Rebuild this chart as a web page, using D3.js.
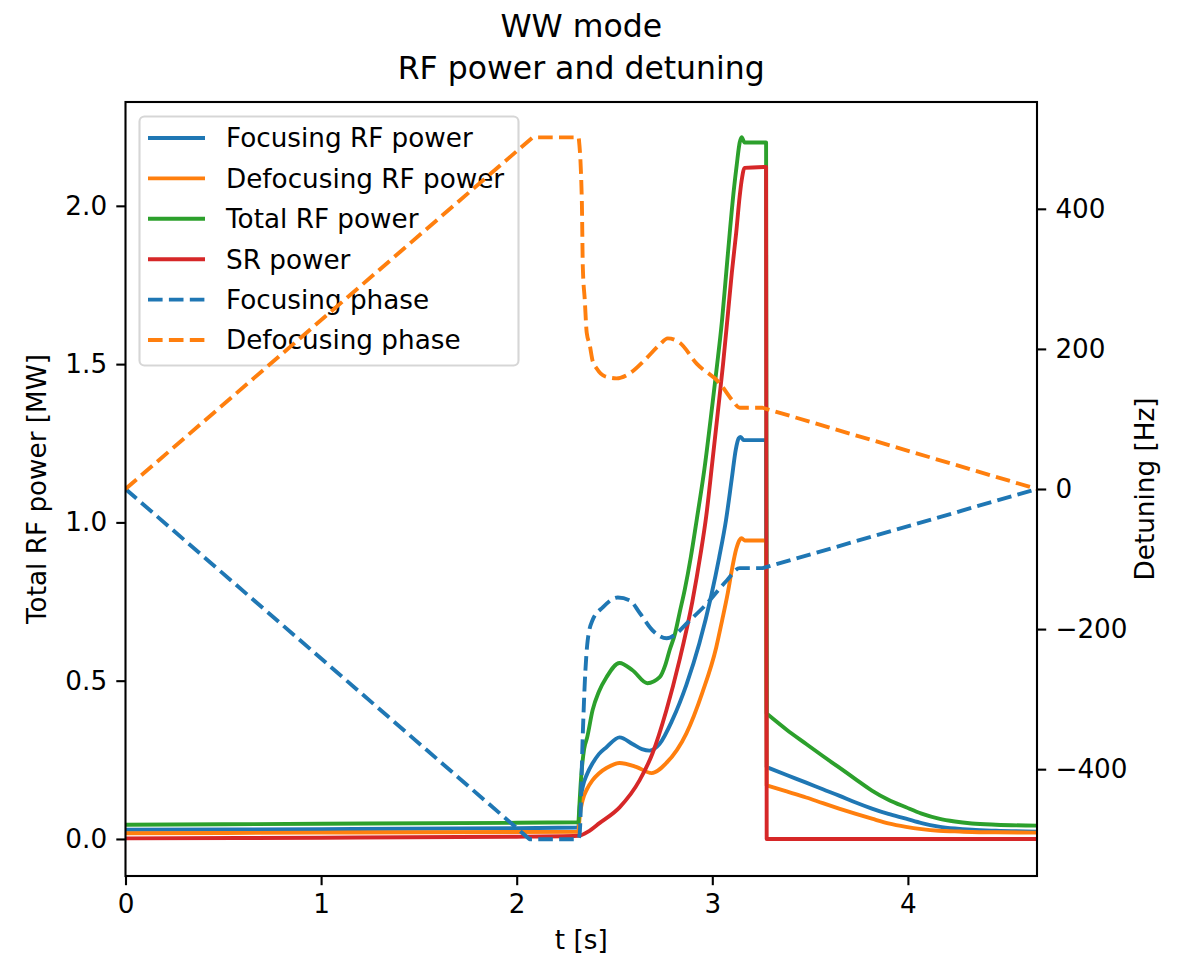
<!DOCTYPE html>
<html><head><meta charset="utf-8">
<script src="https://cdn.jsdelivr.net/npm/d3@7"></script>
<style>
body{margin:0;background:#fff}
text{font-family:"DejaVu Sans",sans-serif;fill:#000}
</style>
</head><body>
<svg id="chart" width="1178" height="956"></svg>
<script>
// ---- data: [t (s), value] ----
const focusingRFPower = [[0,0.029],[1.0,0.031],[2.0,0.034],[2.316,0.036],[2.322,0.10],[2.337,0.163],[2.36,0.205],[2.388,0.239],[2.42,0.268],[2.459,0.29],[2.526,0.321],[2.592,0.30],[2.64,0.284],[2.679,0.279],[2.73,0.30],[2.796,0.376],[2.867,0.486],[2.934,0.618],[2.995,0.77],[3.035,0.889],[3.07,1.007],[3.1,1.14],[3.12,1.23],[3.135,1.266],[3.145,1.27],[3.16,1.26],[3.275,1.26],[3.278,0.227],[3.38,0.202],[3.48,0.178],[3.565,0.157],[3.648,0.137],[3.73,0.116],[3.816,0.096],[3.9,0.079],[3.99,0.064],[4.07,0.05],[4.158,0.039],[4.24,0.033],[4.327,0.029],[4.45,0.026],[4.66,0.023]];
const defocusingRFPower = [[0,0.018],[1.0,0.020],[2.0,0.022],[2.316,0.023],[2.322,0.07],[2.337,0.122],[2.36,0.158],[2.388,0.186],[2.42,0.207],[2.459,0.224],[2.526,0.24],[2.61,0.228],[2.69,0.208],[2.765,0.24],[2.867,0.333],[2.95,0.464],[3.02,0.605],[3.05,0.69],[3.077,0.77],[3.1,0.85],[3.122,0.915],[3.14,0.945],[3.15,0.95],[3.165,0.943],[3.275,0.943],[3.278,0.169],[3.38,0.15],[3.48,0.131],[3.565,0.113],[3.648,0.096],[3.73,0.08],[3.816,0.064],[3.9,0.049],[3.99,0.038],[4.07,0.031],[4.158,0.026],[4.24,0.024],[4.327,0.022],[4.45,0.021],[4.66,0.020]];
const totalRFPower = [[0,0.045],[1.0,0.048],[2.0,0.051],[2.316,0.053],[2.33,0.2],[2.345,0.285],[2.36,0.32],[2.388,0.407],[2.42,0.465],[2.459,0.511],[2.526,0.556],[2.592,0.533],[2.668,0.492],[2.731,0.511],[2.76,0.55],[2.782,0.597],[2.81,0.65],[2.833,0.715],[2.86,0.79],[2.89,0.89],[2.92,1.007],[2.96,1.17],[3.0,1.37],[3.023,1.49],[3.05,1.64],[3.07,1.78],[3.089,1.914],[3.11,2.05],[3.125,2.13],[3.14,2.2],[3.15,2.217],[3.165,2.20],[3.275,2.20],[3.278,0.396],[3.38,0.345],[3.48,0.30],[3.565,0.262],[3.648,0.226],[3.73,0.19],[3.816,0.153],[3.9,0.124],[3.99,0.10],[4.07,0.08],[4.158,0.064],[4.24,0.055],[4.327,0.049],[4.45,0.045],[4.66,0.042]];
const srPower = [[0,0.002],[1.0,0.004],[2.0,0.007],[2.316,0.01],[2.37,0.025],[2.423,0.05],[2.526,0.1],[2.628,0.185],[2.694,0.27],[2.765,0.406],[2.832,0.564],[2.898,0.75],[2.94,0.9],[2.969,1.02],[3.0,1.19],[3.025,1.33],[3.055,1.5],[3.08,1.66],[3.1,1.79],[3.122,1.914],[3.14,2.03],[3.15,2.08],[3.165,2.12],[3.275,2.123],[3.278,0],[4.66,0]];
const focusingPhase = [[0,0],[2.066,-500],[2.316,-500],[2.322,-492],[2.338,-349],[2.348,-277],[2.363,-216],[2.388,-187],[2.44,-169],[2.517,-155],[2.578,-159],[2.629,-177],[2.695,-202],[2.767,-213],[2.818,-206],[2.869,-192],[2.971,-164],[3.073,-131],[3.14,-113],[3.257,-113],[4.66,0]];
const defocusingPhase = [[0,0],[2.082,502],[2.317,502],[2.333,412],[2.338,317],[2.348,270],[2.358,223],[2.373,206],[2.388,183],[2.409,172],[2.45,161],[2.51,158],[2.577,165],[2.654,184],[2.731,206],[2.772,215],[2.833,209],[2.92,179],[3.038,151],[3.104,126],[3.14,116],[3.257,116],[4.66,0]];
// kinks: times where the curves have corners (not smoothed through)
const rfPowerKinks = [2.316, 3.275, 3.278];
const srPowerKinks = [3.275, 3.278];
const focusingPhaseKinks = [2.066, 2.316, 3.257];
const defocusingPhaseKinks = [2.082, 2.317, 3.257];

const xTicks = [0,1,2,3,4];
const leftTicks = [0,0.5,1.0,1.5,2.0];
const rightTicks = [-400,-200,0,200,400];
const legendLabels = ["Focusing RF power","Defocusing RF power","Total RF power","SR power","Focusing phase","Defocusing phase"];
const titleLines = ["WW mode","RF power and detuning"];

// ---- layout ----
const L = 125.5, R = 1037, T = 102, B = 876;
const C = {blue:"#1f77b4", orange:"#ff7f0e", green:"#2ca02c", red:"#d62728"};
const FS = 26.25, TFS = 31.5, LW = 3.9, AXW = 2.1, TICK = 9.2, PAD = 9.2;
const DASH = "14.6,6.3";

const svg = d3.select("#chart");
const x = d3.scaleLinear().domain([0, 4.66]).range([L, R]);
const yL = d3.scaleLinear().domain([-0.117, 2.328]).range([B, T]);
const yR = d3.scaleLinear().domain([-552.5, 552.5]).range([B, T]);

svg.append("defs").append("clipPath").attr("id","clip")
  .append("rect").attr("x",L).attr("y",T).attr("width",R-L).attr("height",B-T);

// smooth path that keeps corners at the given kink times
function pathWithKinks(data, kinks, y){
  const gen = d3.line().x(d=>x(d[0])).y(d=>y(d[1])).curve(d3.curveMonotoneX);
  const segs = []; let cur = [];
  data.forEach(p=>{
    cur.push(p);
    if (kinks.some(k=>Math.abs(k-p[0])<1e-9)) { segs.push(cur); cur=[p]; }
  });
  if (cur.length>1) segs.push(cur);
  return segs.filter(s=>s.length>1).map((s,i)=>{ const d = gen(s); return i===0 ? d : d.replace(/^M/,"L"); }).join("");
}

const plot = svg.append("g").attr("clip-path","url(#clip)");
const powerSeries = [[focusingRFPower,rfPowerKinks,C.blue],[defocusingRFPower,rfPowerKinks,C.orange],[totalRFPower,rfPowerKinks,C.green],[srPower,srPowerKinks,C.red]];
powerSeries.forEach(([d,k,c])=>{
  plot.append("path").attr("d",pathWithKinks(d,k,yL)).attr("fill","none").attr("stroke",c)
    .attr("stroke-width",LW).attr("stroke-linejoin","round").attr("stroke-linecap","square");
});

// legend (belongs to the left axes, drawn below twin-axis lines)
const lg = svg.append("g");
lg.append("rect").attr("x",139.5).attr("y",116.5).attr("width",379).attr("height",249).attr("rx",5)
  .attr("fill","#fff").attr("fill-opacity",0.8).attr("stroke","#cccccc").attr("stroke-opacity",0.8).attr("stroke-width",AXW);
const legendStyles = [[C.blue,null],[C.orange,null],[C.green,null],[C.red,null],[C.blue,DASH],[C.orange,DASH]];
legendLabels.forEach((lab,i)=>{
  const yy = 138 + i*40.4;
  const [c,dash] = legendStyles[i];
  lg.append("line").attr("x1",148).attr("x2",205).attr("y1",yy).attr("y2",yy)
    .attr("stroke",c).attr("stroke-width",LW).attr("stroke-dasharray",dash);
  lg.append("text").attr("x",226).attr("y",yy).attr("dy","0.36em").attr("font-size",FS).text(lab);
});

// twin axis dashed lines
const plot2 = svg.append("g").attr("clip-path","url(#clip)");
[[focusingPhase,focusingPhaseKinks,C.blue],[defocusingPhase,defocusingPhaseKinks,C.orange]].forEach(([d,k,c])=>{
  plot2.append("path").attr("d",pathWithKinks(d,k,yR)).attr("fill","none").attr("stroke",c)
    .attr("stroke-width",LW).attr("stroke-dasharray",DASH).attr("stroke-linejoin","round");
});

// axes
function styleAxis(g){
  g.select(".domain").remove();
  g.selectAll(".tick line").attr("stroke","#000").attr("stroke-width",AXW);
  g.selectAll(".tick text").attr("font-size",FS).attr("font-family","DejaVu Sans").attr("fill","#000");
}
svg.append("g").attr("transform",`translate(0,${B})`)
  .call(d3.axisBottom(x).tickValues(xTicks).tickFormat(d3.format("d")).tickSize(TICK).tickPadding(PAD))
  .call(styleAxis);
svg.append("g").attr("transform",`translate(${L},0)`)
  .call(d3.axisLeft(yL).tickValues(leftTicks).tickFormat(d3.format(".1f")).tickSize(TICK).tickPadding(PAD))
  .call(styleAxis);
svg.append("g").attr("transform",`translate(${R},0)`)
  .call(d3.axisRight(yR).tickValues(rightTicks).tickFormat(d3.format("d")).tickSize(TICK).tickPadding(PAD))
  .call(styleAxis);

svg.append("rect").attr("x",L).attr("y",T).attr("width",R-L).attr("height",B-T)
  .attr("fill","none").attr("stroke","#000").attr("stroke-width",AXW);

// labels
svg.append("text").attr("x",(L+R)/2).attr("y",949).attr("text-anchor","middle").attr("font-size",FS).text("t [s]");
svg.append("text").attr("transform",`translate(46,${(T+B)/2}) rotate(-90)`).attr("text-anchor","middle").attr("font-size",FS).text("Total RF power [MW]");
svg.append("text").attr("transform",`translate(1154,${(T+B)/2}) rotate(-90)`).attr("text-anchor","middle").attr("font-size",FS).text("Detuning [Hz]");
titleLines.forEach((t,i)=>{
  svg.append("text").attr("x",(L+R)/2).attr("y",37+i*42).attr("text-anchor","middle").attr("font-size",TFS).text(t);
});
</script>
</body></html>
